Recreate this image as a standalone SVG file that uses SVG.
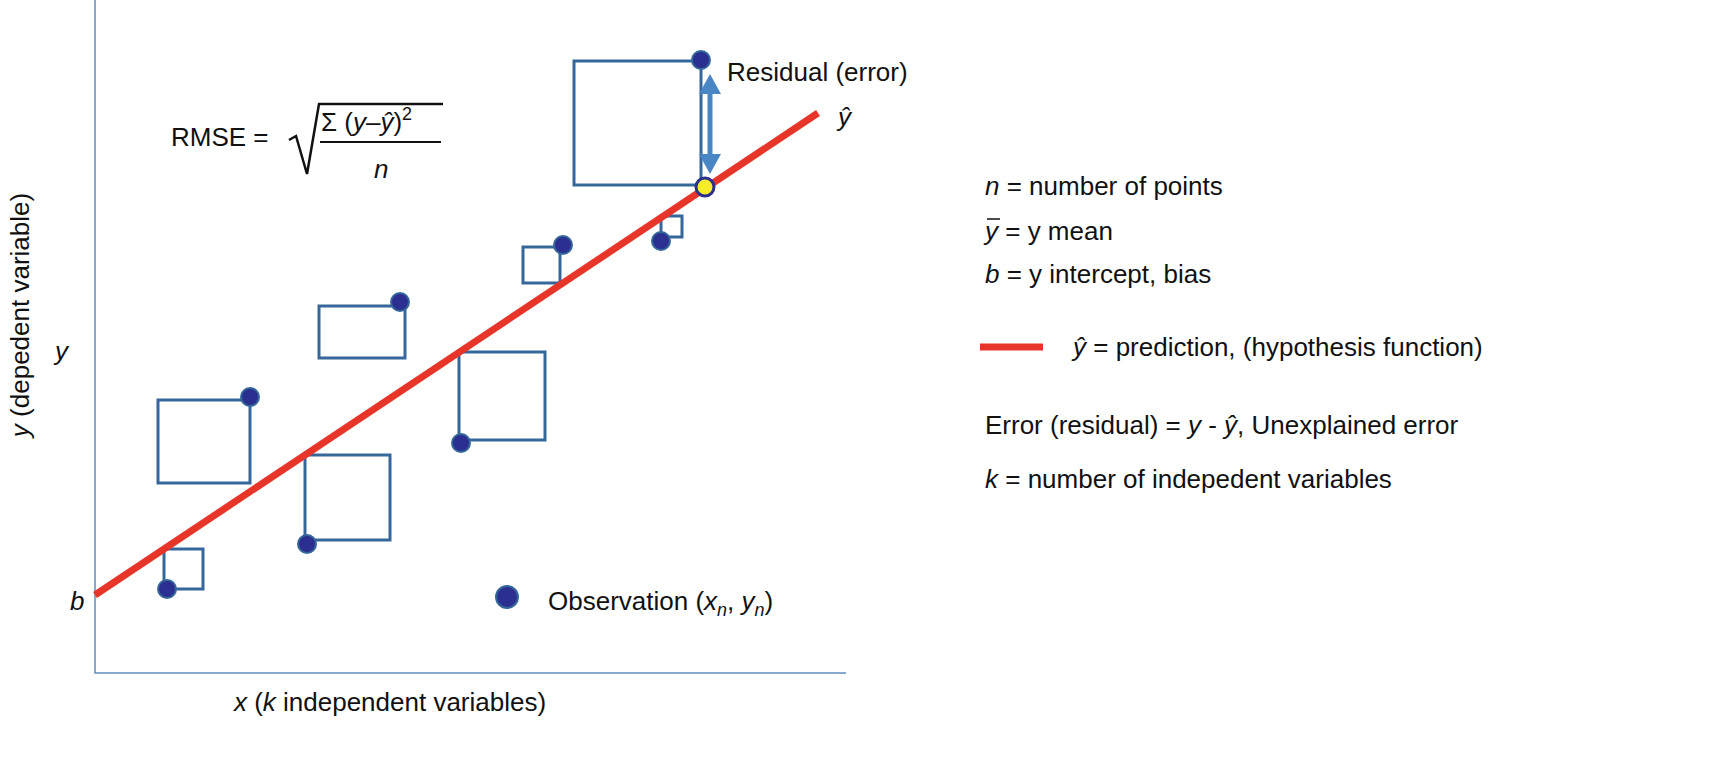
<svg xmlns="http://www.w3.org/2000/svg" width="1713" height="783" viewBox="0 0 1713 783">
<style>
text{font-family:"Liberation Sans",Arial,sans-serif;fill:#111;font-size:26px}
.i{font-style:italic}
.sq{fill:none;stroke:#36679a;stroke-width:3}
.pt{fill:#2b2f8f;stroke:#36679a;stroke-width:2}
.ax{stroke:#5f8fc0;stroke-width:1.5;fill:none}
</style>
<defs>
<marker id="ah" markerWidth="20" markerHeight="22" refX="2" refY="11" orient="auto-start-reverse" markerUnits="userSpaceOnUse" viewBox="0 0 20 22"><path d="M0,0L20,11L0,22z" fill="#4a86c6"/></marker>
</defs>
<rect width="1713" height="783" fill="#fff"/>
<g id="axes">
<path class="ax" d="M95,0V673H846"/>
<text transform="translate(29,315) rotate(-90)" text-anchor="middle"><tspan class="i">y</tspan> (depedent variable)</text>
<text x="55" y="360" class="i">y</text>
<text x="70" y="610" class="i">b</text>
<text x="390" y="711" text-anchor="middle"><tspan class="i">x</tspan> (<tspan class="i">k</tspan> independent variables)</text>
</g>
<g id="squares">
<rect class="sq" x="574" y="61" width="127" height="124"/>
<rect class="sq" x="661" y="216" width="21" height="21"/>
<rect class="sq" x="523" y="247" width="37" height="36"/>
<rect class="sq" x="319" y="306" width="86" height="52"/>
<rect class="sq" x="158" y="400" width="92" height="83"/>
<rect class="sq" x="459" y="352" width="86" height="88"/>
<rect class="sq" x="305" y="455" width="85" height="85"/>
<rect class="sq" x="164" y="549" width="39" height="40"/>
</g>
<g id="connectors">
<line x1="95" y1="595" x2="818" y2="113" stroke="#e8352a" stroke-width="7"/>
<line x1="710" y1="92" x2="710" y2="156" stroke="#4a86c6" stroke-width="5" marker-start="url(#ah)" marker-end="url(#ah)"/>
</g>
<g id="points">
<circle class="pt" cx="701" cy="60" r="9"/>
<circle cx="705" cy="187" r="9" fill="#f6ec2a" stroke="#2b2f8f" stroke-width="3"/>
<circle class="pt" cx="661" cy="241" r="9"/>
<circle class="pt" cx="563" cy="245" r="9"/>
<circle class="pt" cx="400" cy="302" r="9"/>
<circle class="pt" cx="250" cy="397" r="9"/>
<circle class="pt" cx="461" cy="443" r="9"/>
<circle class="pt" cx="307" cy="544" r="9"/>
<circle class="pt" cx="167" cy="589" r="9"/>
<circle class="pt" cx="507" cy="597" r="11"/>
</g>
<g id="labels">
<text x="727" y="81">Residual (error)</text>
<text x="838" y="126" class="i">ŷ</text>
<text x="548" y="610">Observation (<tspan class="i">x<tspan font-size="18" dy="6">n</tspan></tspan><tspan dy="-6">, </tspan><tspan class="i">y<tspan font-size="18" dy="6">n</tspan></tspan><tspan dy="-6">)</tspan></text>
<text x="171" y="146">RMSE =</text>
<path d="M289,140l7,-4l11,38l12,-70h124" fill="none" stroke="#111" stroke-width="2.5"/>
<line x1="320" y1="142" x2="441" y2="142" stroke="#111" stroke-width="2"/>
<text x="321" y="131">Σ (<tspan class="i">y</tspan>–<tspan class="i">ŷ</tspan>)<tspan font-size="18" dy="-11">2</tspan></text>
<text x="374" y="178" class="i">n</text>
</g>
<g id="legend">
<text x="985" y="195"><tspan class="i">n</tspan> = number of points</text>
<text x="985" y="240"><tspan class="i">y</tspan> = y mean</text>
<line x1="987" y1="219" x2="1000" y2="219" stroke="#111" stroke-width="1.5"/>
<text x="985" y="283"><tspan class="i">b</tspan> = y intercept, bias</text>
<line x1="980" y1="347" x2="1043" y2="347" stroke="#e8352a" stroke-width="7"/>
<text x="1073" y="356"><tspan class="i">ŷ</tspan> =  prediction, (hypothesis function)</text>
<text x="985" y="434">Error (residual) = <tspan class="i">y</tspan> - <tspan class="i">ŷ</tspan>, Unexplained error</text>
<text x="985" y="488"><tspan class="i">k</tspan> = number of indepedent variables</text>
</g>
</svg>
